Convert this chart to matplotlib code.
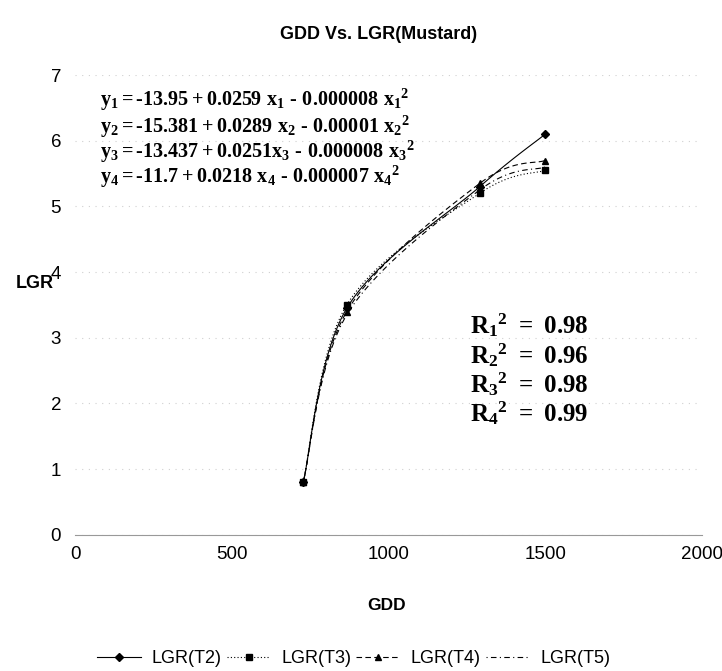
import numpy as np
import matplotlib
matplotlib.use("Agg")
import matplotlib.pyplot as plt
from matplotlib.lines import Line2D

plt.rcParams['font.family'] = ['Liberation Sans', 'DejaVu Sans']
plt.rcParams['mathtext.fontset'] = 'custom'
plt.rcParams['mathtext.rm'] = 'Liberation Serif:bold'
plt.rcParams['mathtext.it'] = 'Liberation Serif:bold'
plt.rcParams['mathtext.bf'] = 'Liberation Serif:bold'

gdd = [728, 867, 1291, 1500]
lgr_t2 = [0.80, 3.45, 5.30, 6.10]
lgr_t3 = [0.80, 3.50, 5.20, 5.55]
lgr_t4 = [0.80, 3.40, 5.35, 5.70]
lgr_t5 = [0.80, 3.35, 5.25, 5.60]
series_names = ['LGR(T2)', 'LGR(T3)', 'LGR(T4)', 'LGR(T5)']
equations = [
    r'$\mathrm{y_1 = \text{-}13.95 + 0.0259\ x_1\ \text{-}\ 0.000008\ x_1{}^2}$',
    r'$\mathrm{y_2 = \text{-}15.381 + 0.0289\ x_2\ \text{-}\ 0.00001\ x_2{}^2}$',
    r'$\mathrm{y_3 = \text{-}13.437 + 0.0251x_3\ \text{-}\ 0.000008\ x_3{}^2}$',
    r'$\mathrm{y_4 = \text{-}11.7 + 0.0218\ x_4\ \text{-}\ 0.000007\ x_4{}^2}$',
]
r2_labels = [r'$\mathrm{R_1{}^2\ =\ 0.98}$', r'$\mathrm{R_2{}^2\ =\ 0.96}$',
             r'$\mathrm{R_3{}^2\ =\ 0.98}$', r'$\mathrm{R_4{}^2\ =\ 0.99}$']

XMAX, YMAX = 2000.0, 7.0


def smooth(xv, yv, n=40):
    # Excel-like smoothed line (cubic Bezier through the points)
    p = np.column_stack([np.asarray(xv) / XMAX, np.asarray(yv) / YMAX])
    ext = np.vstack([p[0], p, p[-1]])
    out = []
    for i in range(len(p) - 1):
        p0, p1, p2, p3 = ext[i], ext[i + 1], ext[i + 2], ext[i + 3]
        c1 = p1 + (p2 - p0) / 6.0
        c2 = p2 - (p3 - p1) / 6.0
        t = np.linspace(0, 1, n)[:, None]
        seg = ((1 - t) ** 3) * p1 + 3 * ((1 - t) ** 2) * t * c1 + 3 * (1 - t) * t ** 2 * c2 + t ** 3 * p2
        out.append(seg)
    out = np.vstack(out)
    return out[:, 0] * XMAX, out[:, 1] * YMAX


fig = plt.figure(figsize=(7.22, 6.71), dpi=100)
ax = fig.add_axes([0.104, 0.203, 0.868, 0.685])

styles = [
    dict(marker='D', ls='-', ms=4),
    dict(marker='s', ls=(0, (1, 2)), ms=4),
    dict(marker='^', ls=(0, (5, 3)), ms=4),
    dict(marker=None, ls=(0, (1, 3, 5, 3)), ms=4),
]
data = [lgr_t2, lgr_t3, lgr_t4, lgr_t5]
handles = []
for y, st, name in zip(data, styles, series_names):
    sx, sy = smooth(gdd, y)
    ax.plot(sx, sy, color='black', lw=0.8, ls=st['ls'])
    if st['marker']:
        ax.plot(gdd, y, ls='none', marker=st['marker'], ms=st['ms'], color='black')
    handles.append(Line2D([], [], color='black', lw=0.8, ls=st['ls'],
                          marker=st['marker'], ms=st['ms']))

ax.set_xlim(0, XMAX)
ax.set_ylim(0, YMAX)
ax.set_xticks([0, 500, 1000, 1500, 2000])
ax.set_yticks(range(0, 8))
ax.tick_params(length=0, labelsize=13.5, pad=8)
ax.tick_params(axis='y', pad=10)
ax.yaxis.grid(True, color='#d0d0d0', ls=(0, (1, 5)), lw=0.8)
for s in ['top', 'right', 'left']:
    ax.spines[s].set_visible(False)
ax.spines['bottom'].set_color('#999999')
ax.spines['bottom'].set_linewidth(0.8)

fig.text(0.525, 0.948, 'GDD Vs. LGR(Mustard)', ha='center', va='center',
         fontsize=13, fontweight='bold')
fig.text(0.535, 0.098, 'GDD', ha='center', va='center', fontsize=12.5, fontweight='bold')
fig.text(0.048, 0.578, 'LGR', ha='center', va='center', fontsize=13, fontweight='bold')

eq_y = [0.851, 0.811, 0.773, 0.736]
for t, yy in zip(equations, eq_y):
    fig.text(0.138, yy, t, ha='left', va='center', fontsize=14.5)
r2_y = [0.515, 0.471, 0.427, 0.385]
for t, yy in zip(r2_labels, r2_y):
    fig.text(0.651, yy, t, ha='left', va='center', fontsize=18)

fig.legend(handles, series_names, loc='center', bbox_to_anchor=(0.49, 0.018),
           ncol=4, frameon=False, fontsize=13, handlelength=2.4,
           columnspacing=0.3, handletextpad=0.6)

fig.savefig('out.png', dpi=100)
